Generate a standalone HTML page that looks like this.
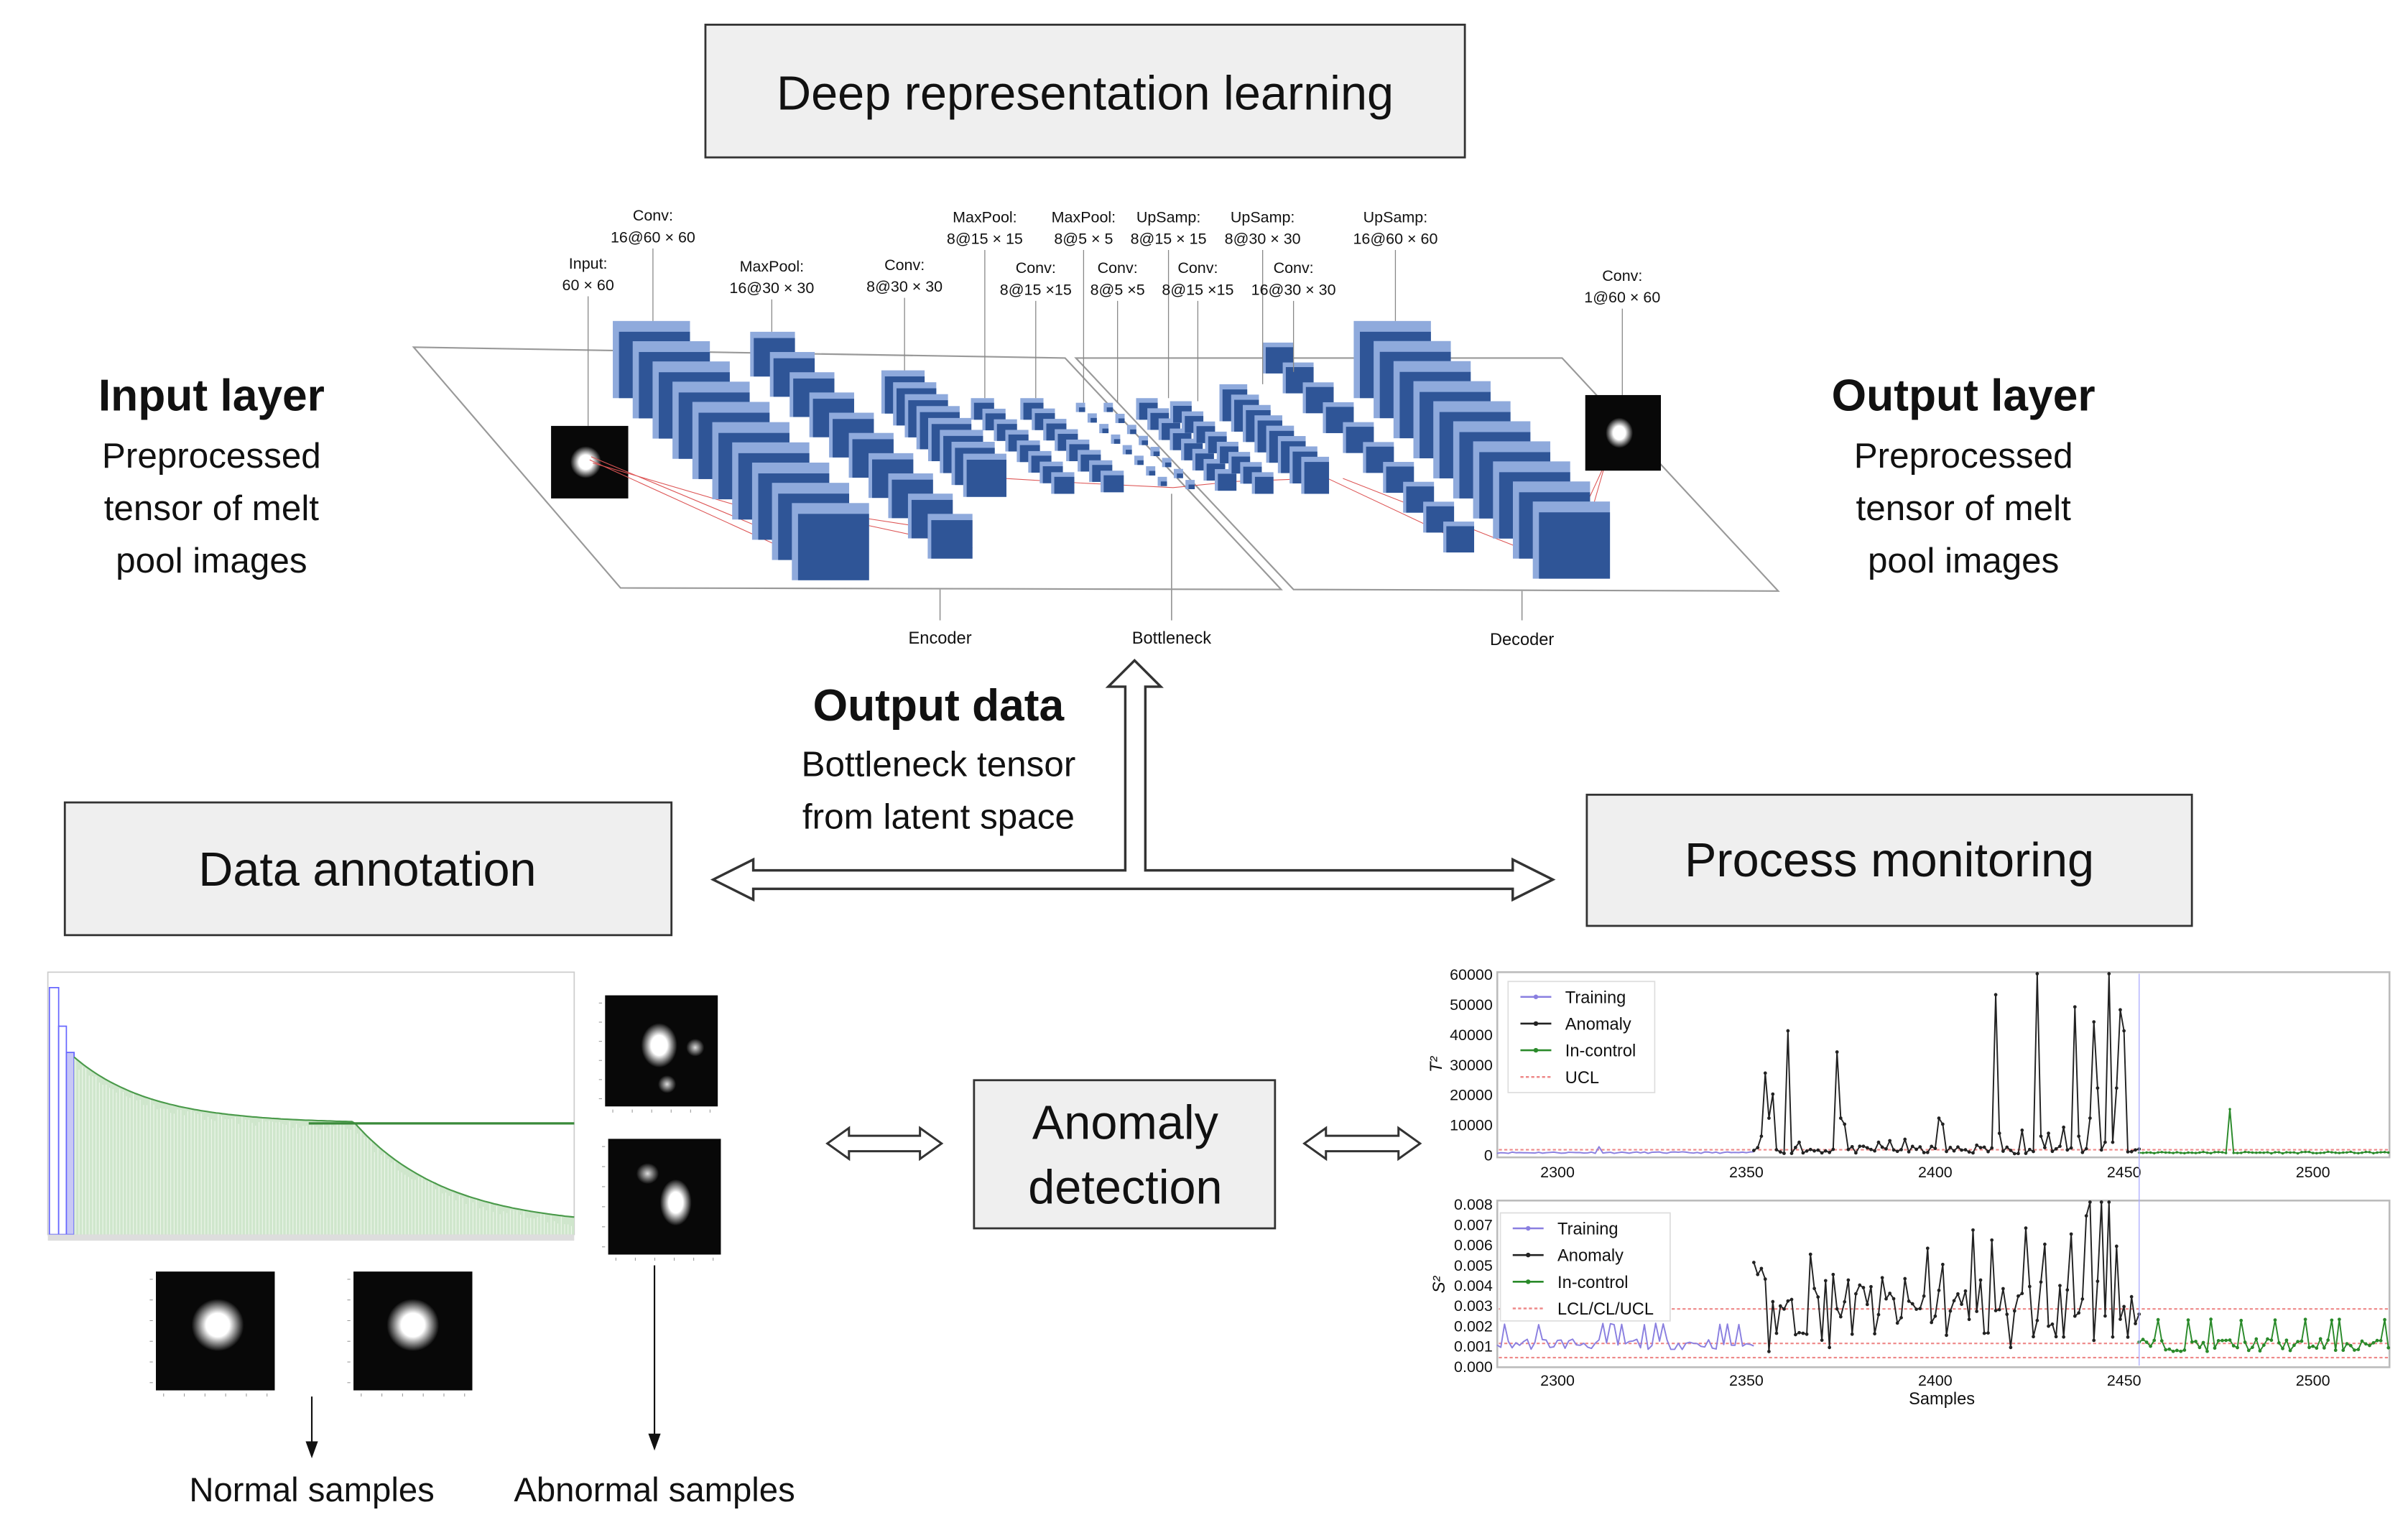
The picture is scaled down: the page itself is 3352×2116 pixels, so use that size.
<!DOCTYPE html>
<html><head><meta charset="utf-8"><style>
html,body{margin:0;padding:0;background:#fff}
svg{display:block}
text{font-family:"Liberation Sans",sans-serif;fill:#111}
</style></head><body>
<svg id="s" width="3352" height="2116" viewBox="0 0 1560 985" preserveAspectRatio="none" xmlns="http://www.w3.org/2000/svg">
<defs>
<radialGradient id="blob" cx="50%" cy="50%" r="50%"><stop offset="0" stop-color="#fff"/><stop offset="0.45" stop-color="#fff"/><stop offset="1" stop-color="#fff" stop-opacity="0"/></radialGradient>
<radialGradient id="blob2" cx="50%" cy="50%" r="50%"><stop offset="0" stop-color="#ddd"/><stop offset="1" stop-color="#ddd" stop-opacity="0"/></radialGradient>
</defs>
<rect width="1560" height="985" fill="#fff"/>
<!-- Title box -->
<rect x="457" y="16" width="492" height="86" fill="#efefef" stroke="#333" stroke-width="1.3"/>
<text x="703" y="71" font-size="31" text-anchor="middle">Deep representation learning</text>
<!-- input/output layer text -->
<g text-anchor="middle">
<text x="137" y="266" font-size="29" font-weight="bold">Input layer</text>
<text x="137" y="303" font-size="23">Preprocessed</text>
<text x="137" y="337" font-size="23">tensor of melt</text>
<text x="137" y="371" font-size="23">pool images</text>
<text x="1272" y="266" font-size="29" font-weight="bold">Output layer</text>
<text x="1272" y="303" font-size="23">Preprocessed</text>
<text x="1272" y="337" font-size="23">tensor of melt</text>
<text x="1272" y="371" font-size="23">pool images</text>
<text x="608" y="467" font-size="29" font-weight="bold">Output data</text>
<text x="608" y="503" font-size="23">Bottleneck tensor</text>
<text x="608" y="537" font-size="23">from latent space</text>
</g>
<!-- planes -->
<polygon points="268,225 690,232 830,382 402,381" fill="none" stroke="#999" stroke-width="1"/>
<polygon points="697,232 1012,232 1152,383 838,382" fill="none" stroke="#999" stroke-width="1"/>
<g id="net"></g>
<!-- bottom labels -->
<g stroke="#999" stroke-width="0.8">
<line x1="609" y1="382" x2="609" y2="402"/><line x1="759" y1="320" x2="759" y2="402"/><line x1="986" y1="383" x2="986" y2="402"/>
</g>
<g font-size="11" text-anchor="middle">
<text x="609" y="417">Encoder</text><text x="759" y="417">Bottleneck</text><text x="986" y="418">Decoder</text>
</g>
<!-- hollow arrows -->
<path d="M462,570 L488,557 L488,564 L729,564 L729,445 L718,445 L735,428 L752,445 L742,445 L742,564 L980,564 L980,557 L1006,570 L980,583 L980,576 L488,576 L488,583 Z" fill="#fff" stroke="#333" stroke-width="1.6"/>
<!-- boxes -->
<rect x="42" y="520" width="393" height="86" fill="#efefef" stroke="#333" stroke-width="1.3"/>
<text x="238" y="574" font-size="31" text-anchor="middle">Data annotation</text>
<rect x="1028" y="515" width="392" height="85" fill="#efefef" stroke="#333" stroke-width="1.3"/>
<text x="1224" y="568" font-size="31" text-anchor="middle">Process monitoring</text>
<rect x="631" y="700" width="195" height="96" fill="#efefef" stroke="#333" stroke-width="1.3"/>
<text x="729" y="738" font-size="31" text-anchor="middle">Anomaly</text>
<text x="729" y="780" font-size="31" text-anchor="middle">detection</text>
<path d="M536,741 L550,731 L550,736 L596,736 L596,731 L610,741 L596,751 L596,746 L550,746 L550,751 Z" fill="#fff" stroke="#333" stroke-width="1.4"/>
<path d="M845,741 L859,731 L859,736 L906,736 L906,731 L920,741 L906,751 L906,746 L859,746 L859,751 Z" fill="#fff" stroke="#333" stroke-width="1.4"/>
<!-- dendrogram -->
<rect x="31" y="630" width="341" height="170" fill="#fff" stroke="#ccc" stroke-width="0.8"/>
<g id="dend"></g>
<line x1="200" y1="728" x2="372" y2="728" stroke="#3a8a3a" stroke-width="1.5"/>
<!-- images -->
<g id="imgs"></g>
<line x1="202" y1="905" x2="202" y2="935" stroke="#111" stroke-width="1"/><polygon points="198,934 206,934 202,945" fill="#111"/>
<line x1="424" y1="820" x2="424" y2="930" stroke="#111" stroke-width="1"/><polygon points="420,929 428,929 424,940" fill="#111"/>
<text x="202" y="973" font-size="22" text-anchor="middle">Normal samples</text>
<text x="424" y="973" font-size="22" text-anchor="middle">Abnormal samples</text>
<!-- charts -->
<g id="charts"></g>
</svg>
<script>
var NS="http://www.w3.org/2000/svg";
function el(p,t,a,txt){var e=document.createElementNS(NS,t);for(var k in a)e.setAttribute(k,a[k]);if(txt!==undefined)e.textContent=txt;p.appendChild(e);return e;}
var net=document.getElementById('net');
var L="#8faadc",D="#2f5597";
function block(x0,y0,x1,y1,n,w,h){for(var i=0;i<n;i++){var x=x0+(x1-x0)*i/(n-1),y=y0+(y1-y0)*i/(n-1);
el(net,'rect',{x:x,y:y,width:w,height:h,fill:L});
var dx=Math.max(2,w*0.08),dy=Math.max(3,h*0.14);
el(net,'rect',{x:x+dx,y:y+dy,width:w-dx,height:h-dy,fill:D});}}
// input image
function img(p,x,y,w,h,blobs,axes){el(p,'rect',{x:x,y:y,width:w,height:h,fill:'#080808'});
blobs.forEach(function(b){el(p,'ellipse',{cx:x+b[0]*w,cy:y+b[1]*h,rx:b[2]*w,ry:b[3]*h,fill:b[4]||'url(#blob)'});});
if(axes){for(var i=0;i<6;i++){el(p,'line',{x1:x+5+i*(w-10)/5,y1:y+h+2,x2:x+5+i*(w-10)/5,y2:y+h+4,stroke:'#999','stroke-width':0.5});el(p,'line',{x1:x-4,y1:y+5+i*(h-10)/5,x2:x-2,y2:y+5+i*(h-10)/5,stroke:'#999','stroke-width':0.5});}}}
img(net,357,276,50,47,[[0.45,0.5,0.2,0.22]]);
// red lines
[[382,298,540,370],[384,300,520,340],[383,296,548,365],[560,340,630,355],[555,335,620,345],[650,310,700,313],[700,313,760,316],[760,316,800,312],[800,312,855,310],[860,310,945,350],[870,310,1010,365],[1047,285,1010,365],[1045,283,1020,370]].forEach(function(l){el(net,'line',{x1:l[0],y1:l[1],x2:l[2],y2:l[3],stroke:'#d55','stroke-width':0.5});});
block(397,208,513,326,10,50,50);
block(486,215,601,333,10,29,29);
block(571,240,624,294,8,28,28);
block(629,258,681,306,8,15,14);
block(661,258,713,305,8,15,14);
block(697,261,750,309,8,6,6);
block(715,261,768,311,8,6,6);
block(736,258,787,304,8,14,14);
block(758,260,811,306,8,14,14);
block(790,249,843,296,8,18,24);
block(818,222,935,338,10,20,20);
block(877,208,993,325,10,50,50);
img(net,1027,256,49,49,[[0.45,0.5,0.18,0.2]]);
// labels
var labs=[[381,174,"Input:","60 × 60",276],[423,143,"Conv:","16@60 × 60",208],[500,176,"MaxPool:","16@30 × 30",215],[586,175,"Conv:","8@30 × 30",240],[638,144,"MaxPool:","8@15 × 15",258],[671,177,"Conv:","8@15 ×15",258],[702,144,"MaxPool:","8@5 × 5",261],[724,177,"Conv:","8@5 ×5",261],[757,144,"UpSamp:","8@15 × 15",258],[776,177,"Conv:","8@15 ×15",260],[818,144,"UpSamp:","8@30 × 30",249],[838,177,"Conv:","16@30 × 30",241],[904,144,"UpSamp:","16@60 × 60",208],[1051,182,"Conv:","1@60 × 60",256]];
labs.forEach(function(l){el(net,'text',{x:l[0],y:l[1],'font-size':10,'text-anchor':'middle'},l[2]);el(net,'text',{x:l[0],y:l[1]+14,'font-size':10,'text-anchor':'middle'},l[3]);
el(net,'line',{x1:l[0],y1:l[1]+18,x2:l[0],y2:l[4],stroke:'#888','stroke-width':0.6});});
// dendrogram
var d=document.getElementById('dend');
var s=7;function rnd(){s=(s*16807)%2147483647;return s/2147483647;}
el(d,'rect',{x:32,y:640,width:6,height:160,fill:'none',stroke:'#66f','stroke-width':0.8});
el(d,'rect',{x:38,y:665,width:5,height:135,fill:'none',stroke:'#66f','stroke-width':0.8});
el(d,'rect',{x:43,y:682,width:5,height:118,fill:'#c8c8f5',stroke:'#66f','stroke-width':0.8});
function env(x){var t=(x-48)/324;if(x<230)return 685+ (728-685)*(1-Math.exp(-(x-48)/50));return 728+ (795-728)*(1-Math.exp(-(x-230)/60));}
el(d,'rect',{x:48,y:690,width:324,height:110,fill:'none'});
var pts="";for(var x=48;x<=372;x+=2){pts+=x+","+env(x).toFixed(1)+" ";}
el(d,'polygon',{points:"48,800 "+pts+"372,800",fill:'#cfe6cc'});
for(var x=49;x<372;x+=2.2){var y=env(x)+rnd()*6;el(d,'line',{x1:x,y1:y,x2:x,y2:800,stroke:'#eef7ec','stroke-width':0.5});}
el(d,'polyline',{points:pts,fill:'none',stroke:'#4a9a4a','stroke-width':1});
el(d,'rect',{x:31,y:800,width:341,height:4,fill:'#ddd'});
// sample images
var im=document.getElementById('imgs');
img(im,392,645,73,72,[[0.48,0.45,0.16,0.2],[0.8,0.47,0.08,0.08,'url(#blob2)'],[0.55,0.8,0.08,0.08,'url(#blob2)']],true);
img(im,394,738,73,75,[[0.6,0.55,0.14,0.2],[0.35,0.3,0.1,0.09,'url(#blob2)']],true);
img(im,101,824,77,77,[[0.52,0.45,0.22,0.22]],true);
img(im,229,824,77,77,[[0.5,0.45,0.22,0.22]],true);
// charts
var c=document.getElementById('charts');
function X(v){return 1009+(v-2300)*2.447;}
function chartFrame(x0,y0,x1,y1){el(c,'rect',{x:x0,y:y0,width:x1-x0,height:y1-y0,fill:'#fff',stroke:'#bbb','stroke-width':1.2});}
chartFrame(970,630,1548,750);chartFrame(970,778,1548,886);
function Y1(v){return 748-v/60000*117;}
function Y2(v){return 885-v/0.008*105;}
var yt=[0,10000,20000,30000,40000,50000,60000];
yt.forEach(function(v){el(c,'text',{x:967,y:Y1(v)+4,'font-size':10,'text-anchor':'end'},v);});
for(var i=0;i<=8;i++){el(c,'text',{x:967,y:Y2(i*0.001)+4,'font-size':10,'text-anchor':'end'},(i*0.001).toFixed(3));}
[2300,2350,2400,2450,2500].forEach(function(v){el(c,'text',{x:X(v),y:763,'font-size':10,'text-anchor':'middle'},v);el(c,'text',{x:X(v),y:898,'font-size':10,'text-anchor':'middle'},v);});
el(c,'text',{x:1258,y:910,'font-size':11,'text-anchor':'middle'},"Samples");
el(c,'text',{x:0,y:0,'font-size':11,'font-style':'italic',transform:'translate(934,695) rotate(-90)'},"T²");
el(c,'text',{x:0,y:0,'font-size':11,'font-style':'italic',transform:'translate(936,838) rotate(-90)'},"S²");
// red limit lines
el(c,'line',{x1:971,y1:Y1(1500),x2:1547,y2:Y1(1500),stroke:'#e88','stroke-width':1,'stroke-dasharray':'2,1.5'});
[0.0028,0.0011,0.0004].forEach(function(v){el(c,'line',{x1:971,y1:Y2(v),x2:1547,y2:Y2(v),stroke:'#e88','stroke-width':1,'stroke-dasharray':'2,1.5'});});
s=11;
var peaks={2354:6000,2355:27000,2356:12000,2357:20000,2361:41000,2364:4000,2374:34000,2375:12000,2376:10000,2385:4000,2388:4500,2392:5000,2401:12000,2402:10000,2411:3000,2416:53000,2417:7000,2423:8000,2427:62000,2428:6000,2430:7000,2434:9000,2437:49000,2438:6000,2441:12000,2442:44000,2443:22000,2445:4000,2446:62000,2447:4000,2449:48000,2450:41000,2448:22000};
function series(a,b,f,col,Y,mk,clipTop){var p=[];for(var v=a;v<=b;v++){var y=Math.max(clipTop,Y(f(v)));p.push(X(v).toFixed(1)+","+y.toFixed(1));}
el(c,'polyline',{points:p.join(" "),fill:'none',stroke:col,'stroke-width':0.9,'stroke-linejoin':'round'});
if(mk)p.forEach(function(q){var xy=q.split(",");el(c,'circle',{cx:xy[0],cy:xy[1],r:mk,fill:col});});}
series(2284,2352,function(v){return v==2311?2500:300+rnd()*500;},'#8a7fe0',Y1,0,631);
series(2352,2454,function(v){return peaks[v]!==undefined?peaks[v]:200+rnd()*2500;},'#222',Y1,1.1,631);
series(2454,2520,function(v){return v==2478?15000:300+rnd()*500;},'#2a8a2a',Y1,0.8,631);
series(2284,2352,function(v){var r=rnd();return 0.0008+r*0.0006+(r>0.85?0.0007:0);},'#8a7fe0',Y2,0,779);
var p2={2352:0.0051,2353:0.0045,2354:0.0048,2356:0.0007,2360:0.0028,2367:0.0055,2371:0.0042,2372:0.0009,2373:0.0045,2383:0.0039,2398:0.0058,2402:0.005,2410:0.0067,2415:0.0062,2420:0.0009,2424:0.0068,2429:0.006,2436:0.0065,2440:0.0074,2441:0.009,2444:0.009,2446:0.009,2448:0.0059};
series(2352,2454,function(v){return p2[v]!==undefined?p2[v]:0.0012+rnd()*0.0032;},'#222',Y2,1.1,779);
series(2454,2520,function(v){var r=rnd();return 0.0007+r*0.0007+(r>0.9?0.0009:0);},'#2a8a2a',Y2,1.1,779);
el(c,'line',{x1:X(2454),y1:631,x2:X(2454),y2:885,stroke:'#aaf','stroke-width':0.6});
function legend(x,y,w,h,items){el(c,'rect',{x:x,y:y,width:w,height:h,fill:'#fff',stroke:'#ddd','stroke-width':0.8});
items.forEach(function(it,i){var yy=y+10+i*17.3;el(c,'line',{x1:x+8,y1:yy,x2:x+28,y2:yy,stroke:it[1],'stroke-width':1.2,'stroke-dasharray':it[2]?'2,1.5':''});if(!it[2])el(c,'circle',{cx:x+18,cy:yy,r:1.5,fill:it[1]});
el(c,'text',{x:x+37,y:yy+4,'font-size':11},it[0]);});}
legend(977,636,95,72,[["Training","#8a7fe0"],["Anomaly","#222"],["In-control","#2a8a2a"],["UCL","#e88",1]]);
legend(972,786,110,70,[["Training","#8a7fe0"],["Anomaly","#222"],["In-control","#2a8a2a"],["LCL/CL/UCL","#e88",1]]);
</script>
</body></html>
